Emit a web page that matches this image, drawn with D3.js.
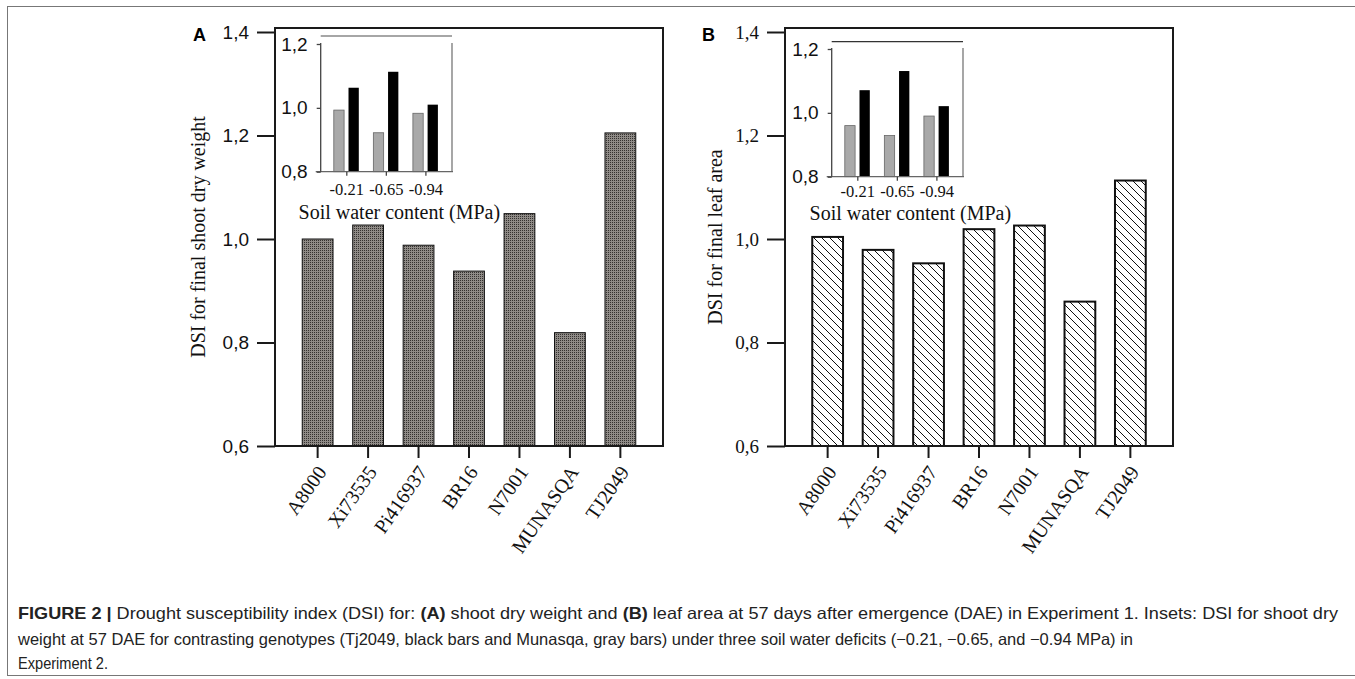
<!DOCTYPE html>
<html>
<head>
<meta charset="utf-8">
<script src="https://cdnjs.cloudflare.com/ajax/libs/d3/7.8.5/d3.min.js"></script>
<style>
  body { margin: 0; background: #fff; }
  svg { display: block; }
</style>
</head>
<body>
<svg id="fig" width="1355" height="679"></svg>
<script>
// data
const genotypes = ["A8000", "Xi73535", "Pi416937", "BR16", "N7001", "MUNASQA", "TJ2049"];
const shootDSI = [1.000, 1.027, 0.988, 0.938, 1.049, 0.819, 1.205];
const leafDSI = [1.004, 0.979, 0.953, 1.019, 1.026, 0.879, 1.113];
const mainTicks = [0.6, 0.8, 1.0, 1.2, 1.4];

const deficits = ["-0.21", "-0.65", "-0.94"];
const insetA_munasqa = [0.993, 0.922, 0.983];
const insetA_tj2049 = [1.063, 1.113, 1.010];
const insetB_munasqa = [0.960, 0.929, 0.990];
const insetB_tj2049 = [1.071, 1.131, 1.021];
const insetTicks = [0.8, 1.0, 1.2];

const serif = "'Liberation Serif', 'Times New Roman', serif";
const sans = "'Liberation Sans', Arial, sans-serif";
const comma = d => d3.format(".1f")(d).replace(".", ",");

const svg = d3.select("#fig");

// outer figure border
svg.append("rect")
  .attr("x", 7.5).attr("y", 6.5)
  .attr("width", 1400).attr("height", 669)
  .attr("fill", "none").attr("stroke", "#777").attr("stroke-width", 1);

// fill patterns
let defs = svg.append("defs");
let dots = defs.append("pattern").attr("id", "dots").attr("patternUnits", "userSpaceOnUse").attr("width", 2).attr("height", 2);
dots.append("rect").attr("width", 2).attr("height", 2).attr("fill", "#8f8b87");
dots.append("rect").attr("width", 1).attr("height", 1).attr("fill", "#34312f");

let hatch = defs.append("pattern").attr("id", "hatch").attr("patternUnits", "userSpaceOnUse").attr("width", 8).attr("height", 8);
hatch.append("rect").attr("width", 8).attr("height", 8).attr("fill", "#fff");
hatch.append("path").attr("d", "M-2,-2L10,10M-2,6L2,10M6,-2L10,2")
  .attr("stroke", "#111").attr("stroke-width", 1);

function drawPanel(cfg) {
  let g = svg.append("g");
  let w = 388, top = 28, bottom = 446;

  let x = d3.scaleBand().domain(genotypes).range([cfg.left, cfg.left + w]).paddingInner(0.39).paddingOuter(0.54);
  let y = d3.scaleLinear().domain([0.6, 1.4]).range([bottom, 32]);

  // bars
  g.selectAll(".bar")
    .data(genotypes.map((name, i) => ({ name: name, value: cfg.values[i] })))
    .join("rect")
    .attr("class", "bar")
    .attr("x", d => x(d.name))
    .attr("width", x.bandwidth())
    .attr("y", d => y(d.value))
    .attr("height", d => bottom - y(d.value))
    .attr("fill", cfg.fill)
    .attr("stroke", "#111")
    .attr("stroke-width", cfg.barStroke);

  // frame
  g.append("rect")
    .attr("x", cfg.left).attr("y", top)
    .attr("width", w).attr("height", bottom - top)
    .attr("fill", "none").attr("stroke", "#1a1a1a").attr("stroke-width", 2);

  // Add Y Axis
  let yAxis = g.append("g")
    .attr("transform", `translate(${cfg.left}, 0)`)
    .call(d3.axisLeft(y).tickValues(mainTicks).tickSize(18).tickPadding(8).tickFormat(comma));
  yAxis.select(".domain").remove();
  yAxis.selectAll("line").attr("stroke", "#1a1a1a").attr("stroke-width", 2);
  yAxis.selectAll("text").attr("font-family", cfg.tickFont).attr("font-size", 19).attr("fill", "#111");

  // Add X Axis
  let xAxis = g.append("g")
    .attr("transform", `translate(0, ${bottom})`)
    .call(d3.axisBottom(x).tickSize(12));
  xAxis.select(".domain").remove();
  xAxis.selectAll("line").attr("stroke", "#1a1a1a").attr("stroke-width", 2);
  xAxis.selectAll("text")
    .attr("x", 0).attr("y", 0).attr("dy", "0.35em")
    .attr("transform", "translate(4, 22) rotate(-55)")
    .style("text-anchor", "end")
    .attr("font-family", serif).attr("font-size", 20).attr("fill", "#111");

  // y title
  g.append("text")
    .attr("transform", `translate(${cfg.titleX}, ${(top + bottom) / 2}) rotate(-90)`)
    .attr("text-anchor", "middle")
    .attr("font-family", serif).attr("font-size", 20).attr("fill", "#111")
    .text(cfg.title);

  // panel letter
  g.append("text")
    .attr("x", cfg.letterX).attr("y", 41)
    .attr("font-family", sans).attr("font-weight", "bold").attr("font-size", 18)
    .text(cfg.letter);
}

function drawInset(cfg) {
  let g = svg.append("g");

  let x = d3.scaleBand().domain(deficits).range([cfg.left, cfg.right]).paddingOuter(0.16);
  let inner = d3.scaleBand().domain(["munasqa", "tj2049"]).range([-13, 12]).paddingInner(0.3);
  let y = d3.scaleLinear().domain([0.8, 1.2]).range([cfg.bottom, cfg.top]);

  let rows = deficits.map((d, i) => ({ key: d, munasqa: cfg.munasqa[i], tj2049: cfg.tj2049[i] }));

  // bars
  g.selectAll(".gray").data(rows).join("rect")
    .attr("class", "gray")
    .attr("x", d => x(d.key) + x.bandwidth() / 2 + inner("munasqa"))
    .attr("width", inner.bandwidth())
    .attr("y", d => y(d.munasqa))
    .attr("height", d => cfg.bottom - y(d.munasqa))
    .attr("fill", "#a9a9a9").attr("stroke", "#666").attr("stroke-width", 0.8);

  g.selectAll(".black").data(rows).join("rect")
    .attr("class", "black")
    .attr("x", d => x(d.key) + x.bandwidth() / 2 + inner("tj2049"))
    .attr("width", inner.bandwidth())
    .attr("y", d => y(d.tj2049))
    .attr("height", d => cfg.bottom - y(d.tj2049))
    .attr("fill", "#000");

  // frame lines
  g.append("line")
    .attr("x1", cfg.left).attr("x2", cfg.right).attr("y1", cfg.topLine).attr("y2", cfg.topLine)
    .attr("stroke", cfg.topColor).attr("stroke-width", 1.3);
  g.append("line")
    .attr("x1", cfg.right).attr("x2", cfg.right).attr("y1", cfg.top - 1).attr("y2", cfg.bottom)
    .attr("stroke", "#777").attr("stroke-width", 1.3);
  g.append("line")
    .attr("x1", cfg.left - 5).attr("x2", cfg.right + 1).attr("y1", cfg.bottom).attr("y2", cfg.bottom)
    .attr("stroke", "#666").attr("stroke-width", 1.3);

  // Add Y Axis
  let yAxis = g.append("g")
    .attr("transform", `translate(${cfg.left}, 0)`)
    .call(d3.axisLeft(y).tickValues(insetTicks).tickSize(4).tickPadding(9).tickFormat(comma));
  yAxis.select(".domain").attr("stroke", "#444").attr("stroke-width", 1.3).attr("d", `M0,${cfg.top - 1}V${cfg.bottom}`);
  yAxis.selectAll("line").attr("stroke", "#444").attr("stroke-width", 1.3);
  yAxis.selectAll("text").attr("font-family", sans).attr("font-size", 19).attr("fill", "#111");

  // Add X Axis
  let xAxis = g.append("g")
    .attr("transform", `translate(0, ${cfg.bottom})`)
    .call(d3.axisBottom(x).tickSize(4).tickPadding(cfg.tickPad));
  xAxis.select(".domain").remove();
  xAxis.selectAll("line").attr("stroke", "#444").attr("stroke-width", 1.3);
  xAxis.selectAll("text").attr("font-family", serif).attr("font-size", 16.5).attr("fill", "#111");

  g.append("text")
    .attr("x", (cfg.left + cfg.right) / 2 + 13).attr("y", cfg.titleY)
    .attr("text-anchor", "middle")
    .attr("font-family", serif).attr("font-size", 20).attr("fill", "#111")
    .text("Soil water content (MPa)");
}

drawPanel({ left: 275, values: shootDSI, fill: "url(#dots)", barStroke: 1, tickFont: sans,
  title: "DSI for final shoot dry weight", titleX: 205, letter: "A", letterX: 193 });
drawPanel({ left: 785, values: leafDSI, fill: "url(#hatch)", barStroke: 2, tickFont: serif,
  title: "DSI for final leaf area", titleX: 722, letter: "B", letterX: 702 });

drawInset({ left: 320.7, right: 452, top: 44, bottom: 171.7, topLine: 36, topColor: "#888",
  munasqa: insetA_munasqa, tj2049: insetA_tj2049, titleY: 219, tickPad: 8 });
drawInset({ left: 831.7, right: 963, top: 49, bottom: 176.7, topLine: 41.7, topColor: "#333",
  munasqa: insetB_munasqa, tj2049: insetB_tj2049, titleY: 219.5, tickPad: 5 });

// caption
let cap = svg.append("g")
  .attr("font-family", sans).attr("font-size", 16.5).attr("fill", "#222");

let l1 = cap.append("text").attr("x", 18).attr("y", 619)
  .attr("textLength", 1320).attr("lengthAdjust", "spacingAndGlyphs");
l1.append("tspan").attr("font-weight", "bold").text("FIGURE 2 | ");
l1.append("tspan").text("Drought susceptibility index (DSI) for: ");
l1.append("tspan").attr("font-weight", "bold").text("(A)");
l1.append("tspan").text(" shoot dry weight and ");
l1.append("tspan").attr("font-weight", "bold").text("(B)");
l1.append("tspan").text(" leaf area at 57 days after emergence (DAE) in Experiment 1. Insets: DSI for shoot dry");

cap.append("text").attr("x", 18).attr("y", 645)
  .attr("textLength", 1115).attr("lengthAdjust", "spacingAndGlyphs")
  .text("weight at 57 DAE for contrasting genotypes (Tj2049, black bars and Munasqa, gray bars) under three soil water deficits (\u22120.21, \u22120.65, and \u22120.94 MPa) in");

cap.append("text").attr("x", 18).attr("y", 669)
  .attr("textLength", 90).attr("lengthAdjust", "spacingAndGlyphs")
  .text("Experiment 2.");
</script>
</body>
</html>
